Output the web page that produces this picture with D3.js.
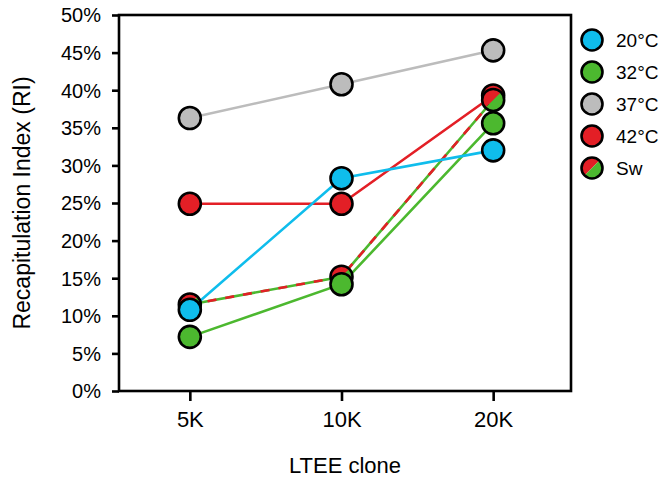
<!DOCTYPE html>
<html>
<head>
<meta charset="utf-8">
<script src="https://cdn.jsdelivr.net/npm/d3@7"></script>
<style>
  body { margin: 0; background: #fff; }
  text { font-family: "Liberation Sans", Arial, sans-serif; fill: #000; }
</style>
</head>
<body>
<div id="chart"></div>
<script>
// chart data
const clones = ["5K", "10K", "20K"];
const ri20 = [10.8, 28.3, 32.0];
const ri32 = [7.2, 14.2, 35.6];
const ri37 = [36.3, 40.8, 45.3];
const ri42 = [24.9, 24.9, 39.3];
const riSw = [11.5, 15.2, 38.7];
const yTicks = [0, 5, 10, 15, 20, 25, 30, 35, 40, 45, 50];
const seriesNames = ["20°C", "32°C", "37°C", "42°C", "Sw"];

const width = 662, height = 478;
const frame = {left: 119, right: 571, top: 15, bottom: 391};

const blueCol = "#0fbdec", greenCol = "#4cb82f", greyCol = "#bcbcbc", redCol = "#e31f26";

const series = [
  {name: "37°C", values: ri37, color: greyCol},
  {name: "42°C", values: ri42, color: redCol},
  {name: "Sw", values: riSw, color: null},
  {name: "32°C", values: ri32, color: greenCol},
  {name: "20°C", values: ri20, color: blueCol}
];

const svg = d3.select("#chart").append("svg")
  .attr("width", width)
  .attr("height", height);

// scales
const x = d3.scalePoint().domain(clones).range([114, 569]).padding(0.5);
const y = d3.scaleLinear().domain([0, 50]).range([frame.bottom, frame.top]);

// axes
const yAxis = d3.axisLeft(y).tickValues(yTicks).tickSize(7).tickPadding(11).tickFormat(d => d + "%");
svg.append("g")
  .attr("class", "axis y")
  .attr("transform", "translate(" + frame.left + ",0)")
  .call(yAxis)
  .call(g => g.select(".domain").remove())
  .call(g => g.selectAll("line").attr("stroke", "#000").attr("stroke-width", 2.6))
  .call(g => g.selectAll("text").style("font-size", "20px").attr("dy", "0.34em"));

const xAxis = d3.axisBottom(x).tickSize(10).tickPadding(10);
svg.append("g")
  .attr("class", "axis x")
  .attr("transform", "translate(0," + frame.bottom + ")")
  .call(xAxis)
  .call(g => g.select(".domain").remove())
  .call(g => g.selectAll("line").attr("stroke", "#000").attr("stroke-width", 2.6))
  .call(g => g.selectAll("text").style("font-size", "22px"));

// frame box
svg.append("rect")
  .attr("x", frame.left)
  .attr("y", frame.top)
  .attr("width", frame.right - frame.left)
  .attr("height", frame.bottom - frame.top)
  .attr("fill", "none")
  .attr("stroke", "#000")
  .attr("stroke-width", 2.6);

// axis titles
svg.append("text")
  .attr("x", (frame.left + frame.right) / 2)
  .attr("y", 473)
  .attr("text-anchor", "middle")
  .style("font-size", "22px")
  .text("LTEE clone");

svg.append("text")
  .attr("transform", "translate(30," + ((frame.top + frame.bottom) / 2) + ") rotate(-90)")
  .attr("text-anchor", "middle")
  .style("font-size", "23px")
  .text("Recapitulation Index (RI)");

const line = d3.line()
  .x((d, i) => x(clones[i]))
  .y(d => y(d));

// lines
series.forEach(function(s){
  if (s.name === "Sw") {
    svg.append("path").attr("d", line(s.values)).attr("fill", "none")
      .attr("stroke", greenCol).attr("stroke-width", 2.6);
    svg.append("path").attr("d", line(s.values)).attr("fill", "none")
      .attr("stroke", redCol).attr("stroke-width", 2.6).attr("stroke-dasharray", "9,9");
  } else {
    svg.append("path").attr("d", line(s.values)).attr("fill", "none")
      .attr("stroke", s.color).attr("stroke-width", 2.6);
  }
});

const r = 11;
const halfArc = (start, end, rad) => d3.arc().innerRadius(0).outerRadius(rad).startAngle(start).endAngle(end)();

function drawSplit(g, rad){
  g.append("path").attr("d", halfArc(-3 * Math.PI / 4, Math.PI / 4, rad)).attr("fill", redCol);
  g.append("path").attr("d", halfArc(Math.PI / 4, 5 * Math.PI / 4, rad)).attr("fill", greenCol);
  g.append("circle").attr("r", rad).attr("fill", "none").attr("stroke", "#000").attr("stroke-width", 2.6);
}

// points
series.forEach(function(s){
  s.values.forEach(function(v, i){
    const g = svg.append("g").attr("transform", "translate(" + x(clones[i]) + "," + y(v) + ")");
    if (s.name === "Sw") {
      drawSplit(g, r);
    } else {
      g.append("circle").attr("r", r).attr("fill", s.color).attr("stroke", "#000").attr("stroke-width", 2.6);
    }
  });
});

// legend
const legendColors = {"20°C": blueCol, "32°C": greenCol, "37°C": greyCol, "42°C": redCol};
const legend = svg.append("g").attr("class", "legend");
seriesNames.forEach(function(name, i){
  const g = legend.append("g").attr("transform", "translate(592," + (40 + i * 32) + ")");
  if (name === "Sw") {
    drawSplit(g, 10.5);
  } else {
    g.append("circle").attr("r", 10.5).attr("fill", legendColors[name]).attr("stroke", "#000").attr("stroke-width", 2.6);
  }
  g.append("text").attr("x", 24).attr("dy", "0.36em").style("font-size", "19px").text(name);
});
</script>
</body>
</html>
